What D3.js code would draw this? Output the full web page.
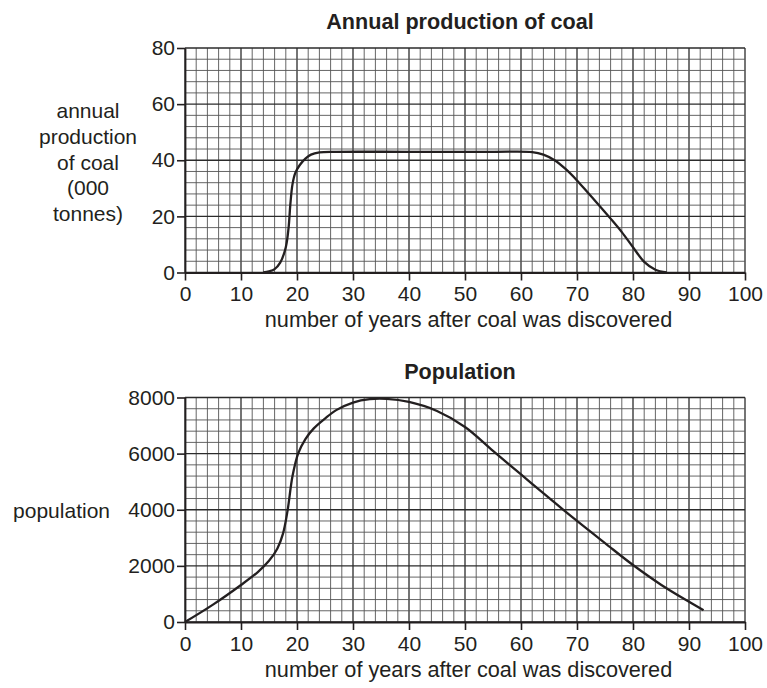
<!DOCTYPE html>
<html>
<head>
<meta charset="utf-8">
<script src="https://cdn.jsdelivr.net/npm/d3@7"></script>
<style>
  body { margin: 0; background: #fff; }
  svg text { font-family: "Liberation Sans", Arial, sans-serif; fill: #231f20; }
</style>
</head>
<body>
<div id="chart"></div>
<script>
// data
var coalYears = [14, 15, 16, 17, 18, 18.5, 18.8, 19.2, 19.7, 20.5, 21.5, 22.5, 24, 27, 40, 55, 62, 64, 66, 68, 70, 72, 74, 76, 78, 80, 82, 84, 86];
var coalOutput = [0, 0.4, 1.2, 3.5, 9, 16, 24, 31.5, 35.5, 38.3, 40.6, 42, 42.8, 43, 43, 43, 42.9, 42, 40, 36.8, 32.8, 28.3, 23.8, 19.2, 14.4, 9, 3.8, 1, 0];

var popYears = [0, 5, 10, 13, 15, 16.5, 17.5, 18.3, 19.2, 20.2, 21.5, 23, 25, 27, 30, 33, 36, 40, 45, 50, 55, 60, 65, 70, 75, 80, 85, 90, 92.6];
var popValues = [0, 620, 1320, 1780, 2180, 2620, 3150, 3950, 5200, 6000, 6520, 6900, 7250, 7550, 7820, 7940, 7950, 7840, 7520, 6950, 6100, 5260, 4420, 3600, 2810, 2030, 1330, 720, 420];

var xTicks = [0, 10, 20, 30, 40, 50, 60, 70, 80, 90, 100];
var coalTicks = [0, 20, 40, 60, 80];
var popTicks = [0, 2000, 4000, 6000, 8000];

var svgWidth = 767;
var svgHeight = 688;

var svg = d3.select("#chart")
  .append("svg")
  .attr("width", svgWidth)
  .attr("height", svgHeight);

var x = d3.scaleLinear().domain([0, 100]).range([185, 745]);

// draws one grid panel with its axes, curve and labels
function drawPanel(opts) {
  var y = d3.scaleLinear().domain([0, opts.yMax]).range([opts.bottom, opts.top]);
  var g = svg.append("g");

  // minor grid: every 2 years, every 1/20 of the y range
  var minorX = d3.range(0, 100.001, 2);
  var minorY = d3.range(0, opts.yMax + 0.001, opts.yMax / 20);

  g.selectAll(".vminor")
    .data(minorX)
    .enter()
    .append("line")
    .attr("x1", d => x(d)).attr("x2", d => x(d))
    .attr("y1", y(0)).attr("y2", y(opts.yMax))
    .attr("stroke", d => d % 10 === 0 ? "#2b2b2b" : "#555")
    .attr("stroke-width", d => d % 10 === 0 ? 1.3 : 0.9);

  g.selectAll(".hminor")
    .data(minorY)
    .enter()
    .append("line")
    .attr("x1", x(0)).attr("x2", x(100))
    .attr("y1", d => y(d)).attr("y2", d => y(d))
    .attr("stroke", (d, i) => i % 5 === 0 ? "#2b2b2b" : "#555")
    .attr("stroke-width", (d, i) => i % 5 === 0 ? 1.3 : 0.9);

  // axes
  var bottomAxis = d3.axisBottom(x).tickValues(xTicks).tickSize(8).tickSizeOuter(0).tickPadding(5);
  var leftAxis = d3.axisLeft(y).tickValues(opts.ticks).tickFormat(d3.format("d"))
    .tickSize(8).tickSizeOuter(0).tickPadding(2);

  var xAxis = g.append("g")
    .attr("transform", `translate(0, ${y(0)})`)
    .call(bottomAxis);
  var yAxis = g.append("g")
    .attr("transform", `translate(${x(0)}, 0)`)
    .call(leftAxis);

  [xAxis, yAxis].forEach(a => {
    a.select(".domain").attr("stroke", "#231f20").attr("stroke-width", 1.8);
    a.selectAll(".tick line").attr("stroke", "#231f20").attr("stroke-width", 1.6);
    a.selectAll("text")
      .attr("fill", "#231f20")
      .style("font-size", "21px")
      .style("font-family", "'Liberation Sans', Arial, sans-serif");
  });
  xAxis.selectAll("text").attr("dy", "0.75em");

  // curve
  var line = d3.line()
    .x(d => x(d[0]))
    .y(d => y(d[1]))
    .curve(d3.curveCatmullRom.alpha(0.5));

  g.append("path")
    .datum(opts.xs.map((v, i) => [v, opts.ys[i]]))
    .attr("d", line)
    .attr("fill", "none")
    .attr("stroke", "#231f20")
    .attr("stroke-width", 2.3);

  // title
  g.append("text")
    .attr("x", 460)
    .attr("y", opts.top - 19)
    .attr("text-anchor", "middle")
    .style("font-size", "21.6px")
    .style("font-weight", "bold")
    .text(opts.title);

  // x axis title
  g.append("text")
    .attr("x", 468.5)
    .attr("y", y(0) + 54.5)
    .attr("text-anchor", "middle")
    .style("font-size", "21.7px")
    .text("number of years after coal was discovered");

  return g;
}

var coalPanel = drawPanel({
  top: 48, bottom: 272.5, yMax: 80, ticks: coalTicks,
  xs: coalYears, ys: coalOutput, title: "Annual production of coal"
});

var popPanel = drawPanel({
  top: 397.5, bottom: 622, yMax: 8000, ticks: popTicks,
  xs: popYears, ys: popValues, title: "Population"
});

// y axis labels
var coalLabel = ["annual", "production", "of coal", "(000", "tonnes)"];
coalPanel.append("text")
  .attr("text-anchor", "middle")
  .style("font-size", "21px")
  .selectAll("tspan")
  .data(coalLabel)
  .enter()
  .append("tspan")
  .attr("x", 88)
  .attr("y", (d, i) => 118.3 + i * 25.7)
  .text(d => d);

popPanel.append("text")
  .attr("x", 110)
  .attr("y", 518)
  .attr("text-anchor", "end")
  .style("font-size", "21px")
  .text("population");
</script>
</body>
</html>
